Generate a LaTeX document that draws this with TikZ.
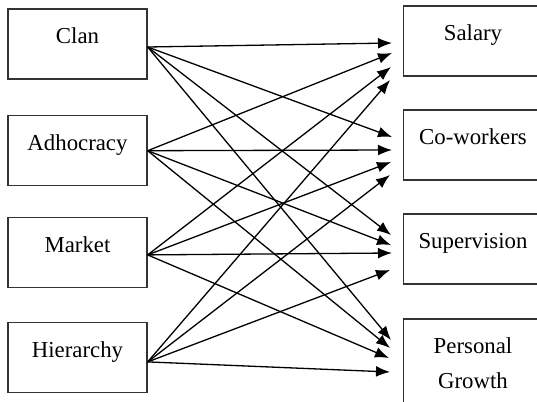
\documentclass[tikz,border=0pt]{standalone}
\usepackage{fontspec}
\setmainfont{Liberation Serif}
\usetikzlibrary{arrows.meta}

\begin{document}
\begin{tikzpicture}[x=0.5pt, y=-0.5pt,
	every node/.style={font=\fontsize{11.4}{17.5}\selectfont},
	box/.style={draw=black!80, line width=0.65pt, minimum width=69.5pt, minimum height=35pt, text depth=8pt, inner sep=0pt},
	tallbox/.style={draw=black!80, line width=0.65pt, minimum width=69.5pt, minimum height=44pt, align=center, anchor=north, inner sep=0pt},
	link/.style={line width=0.65pt, -{Latex[length=7pt,width=5.4pt]}}]

\useasboundingbox (0,0) rectangle (537,402);

\node[box] (clan) at (77.5,44) {Clan};
\node[box] (adho) at (77.5,150.7) {Adhocracy};
\node[box] (market) at (77.5,252.3) {Market};
\node[box] (hier) at (77.5,357.3) {Hierarchy};

\node[box] (salary) at (473,41) {Salary};
\node[box] (cowork) at (473,145) {Co-workers};
\node[box] (superv) at (473,249) {Supervision};
\node[tallbox] (growth) at (473,318.3) {Personal\\Growth};

\coordinate (sal1) at (392,43);
\coordinate (sal2) at (392,53);
\coordinate (sal3) at (391,67);
\coordinate (sal4) at (390,80);
\coordinate (cow1) at (392,137);
\coordinate (cow2) at (392,150);
\coordinate (cow3) at (391,162);
\coordinate (cow4) at (390,175);
\coordinate (sup1) at (391,235);
\coordinate (sup2) at (391,245);
\coordinate (sup3) at (392,253);
\coordinate (sup4) at (390,270);
\coordinate (per1) at (391,340);
\coordinate (per2) at (390,348);
\coordinate (per3) at (389,358);
\coordinate (per4) at (390,372);

\draw[link] ([yshift=-1.5pt]clan.east) -- (sal1);
\draw[link] ([yshift=-1.5pt]clan.east) -- (cow1);
\draw[link] ([yshift=-1.5pt]clan.east) -- (sup1);
\draw[link] ([yshift=-1.5pt]clan.east) -- (per1);

\draw[link] (adho.east) -- (sal2);
\draw[link] (adho.east) -- (cow2);
\draw[link] (adho.east) -- (sup2);
\draw[link] (adho.east) -- (per2);

\draw[link] ([yshift=-1.3pt]market.east) -- (sal3);
\draw[link] ([yshift=-1.3pt]market.east) -- (cow3);
\draw[link] ([yshift=-1.3pt]market.east) -- (sup3);
\draw[link] ([yshift=-1.3pt]market.east) -- (per3);

\draw[link] ([yshift=-2.3pt]hier.east) -- (sal4);
\draw[link] ([yshift=-2.3pt]hier.east) -- (cow4);
\draw[link] ([yshift=-2.3pt]hier.east) -- (sup4);
\draw[link] ([yshift=-2.3pt]hier.east) -- (per4);
\end{tikzpicture}
\end{document}
